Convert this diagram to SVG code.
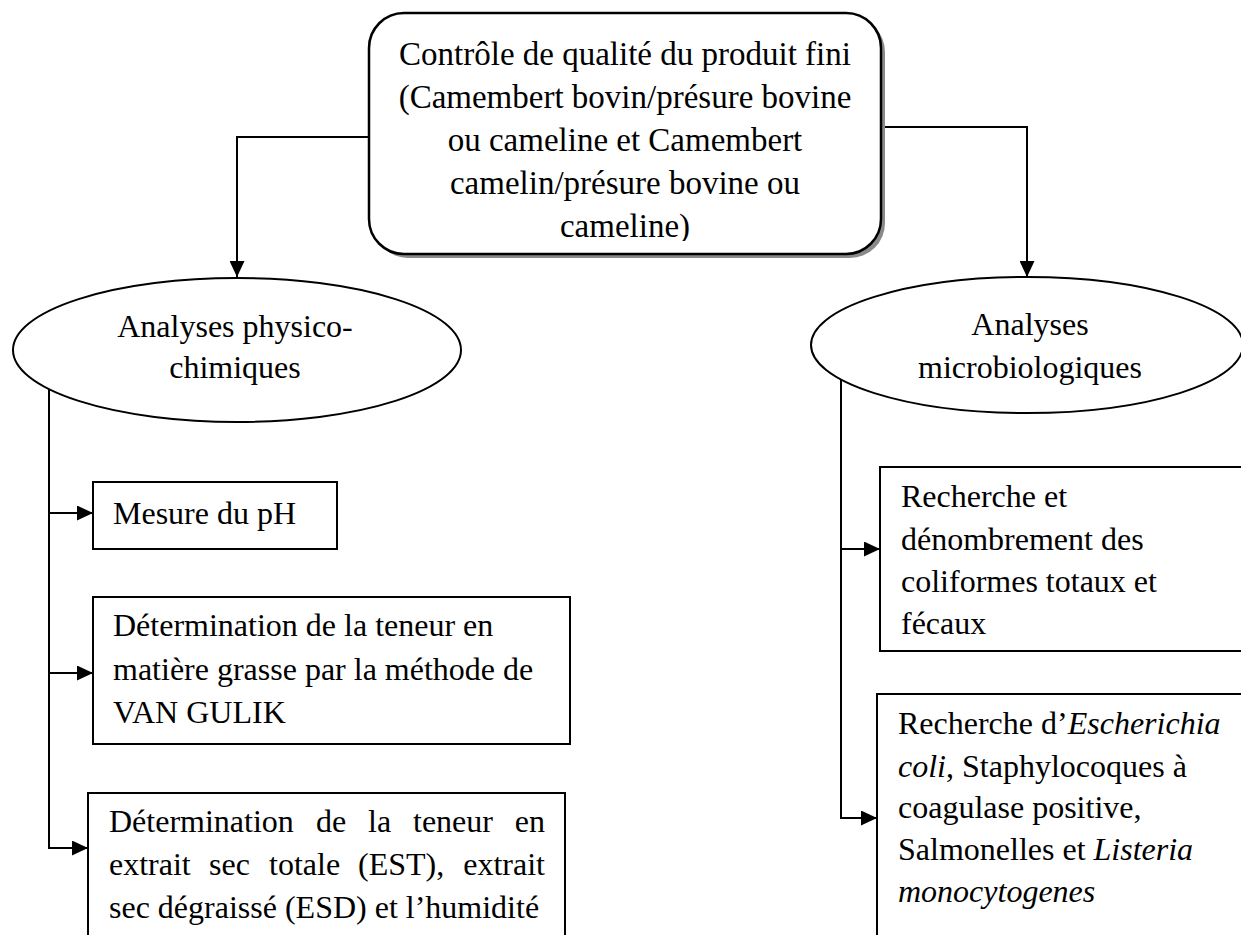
<svg xmlns="http://www.w3.org/2000/svg" width="1241" height="935" viewBox="0 0 1241 935">
<style>
text{font-family:"Liberation Serif","Times New Roman",serif;font-size:32px;fill:#000}
.t{font-size:33px}
.c{text-anchor:middle}
.e{text-anchor:end}
.i{font-style:italic}
.box{fill:#fff;stroke:#000;stroke-width:2}
.ell{fill:#fff;stroke:#000;stroke-width:2}
.ln{fill:none;stroke:#000;stroke-width:2}
</style>
<defs>
<marker id="ah" markerUnits="userSpaceOnUse" markerWidth="16" markerHeight="15" refX="16" refY="7.5" orient="auto">
<path d="M0,0 L16,7.5 L0,15 Z" fill="#000"/>
</marker>
<clipPath id="topclip"><rect x="370" y="14" width="510" height="227"/></clipPath>
</defs>
<rect width="1241" height="935" fill="#fff"/>

<g id="connectors">
<polyline class="ln" points="369,137 237,137 237,277" marker-end="url(#ah)"/>
<polyline class="ln" points="881,127 1027,127 1027,277" marker-end="url(#ah)"/>
<line class="ln" x1="49" y1="389" x2="49" y2="849"/>
<line class="ln" x1="48" y1="513" x2="93" y2="513" marker-end="url(#ah)"/>
<line class="ln" x1="48" y1="673" x2="93" y2="673" marker-end="url(#ah)"/>
<line class="ln" x1="48" y1="848" x2="88" y2="848" marker-end="url(#ah)"/>
<line class="ln" x1="841" y1="379" x2="841" y2="819"/>
<line class="ln" x1="840" y1="549" x2="880" y2="549" marker-end="url(#ah)"/>
<line class="ln" x1="840" y1="818" x2="877" y2="818" marker-end="url(#ah)"/>
</g>

<g id="top">
<rect x="373" y="17" width="512" height="241" rx="35" fill="#8a8a8a"/>
<rect x="369" y="13" width="512" height="241" rx="35" fill="#fff" stroke="#000" stroke-width="2.5"/>
<g clip-path="url(#topclip)">
<text class="t c" x="625" y="65">Contrôle de qualité du produit fini</text>
<text class="t c" x="625" y="108">(Camembert bovin/présure bovine</text>
<text class="t c" x="625" y="151">ou cameline et Camembert</text>
<text class="t c" x="625" y="194">camelin/présure bovine ou</text>
<text class="t c" x="625" y="237">cameline)</text>
</g>
</g>

<g id="physico">
<ellipse class="ell" cx="237" cy="350" rx="224" ry="72"/>
<text class="c" x="235" y="337">Analyses physico-</text>
<text class="c" x="235" y="378">chimiques</text>
</g>

<g id="micro">
<ellipse class="ell" cx="1027" cy="345" rx="216" ry="68"/>
<text class="c" x="1030" y="335">Analyses</text>
<text class="c" x="1030" y="378">microbiologiques</text>
</g>

<g id="ph">
<rect class="box" x="93" y="482" width="244" height="67"/>
<text x="113" y="524">Mesure du pH</text>
</g>

<g id="mg">
<rect class="box" x="93" y="597" width="477" height="147"/>
<text x="113" y="636">Détermination de la teneur en</text>
<text x="113" y="680">matière grasse par la méthode de</text>
<text x="113" y="723">VAN GULIK</text>
</g>

<g id="est">
<rect class="box" x="88" y="793" width="477" height="160"/>
<text x="109" y="832">Détermination</text>
<text x="316" y="832">de</text>
<text x="368" y="832">la</text>
<text x="413" y="832">teneur</text>
<text class="e" x="545" y="832">en</text>
<text x="109" y="875">extrait</text>
<text x="209" y="875">sec</text>
<text x="269" y="875">totale</text>
<text x="358" y="875">(EST),</text>
<text class="e" x="545" y="875">extrait</text>
<text x="109" y="918">sec dégraissé (ESD) et l’humidité</text>
</g>

<g id="coli">
<rect class="box" x="880" y="467" width="370" height="184"/>
<text x="901" y="507">Recherche et</text>
<text x="901" y="550">dénombrement des</text>
<text x="901" y="592">coliformes totaux et</text>
<text x="901" y="634">fécaux</text>
</g>

<g id="patho">
<rect class="box" x="877" y="694" width="373" height="260"/>
<text x="898" y="734">Recherche d’<tspan class="i">Escherichia</tspan></text>
<text x="898" y="777"><tspan class="i">coli</tspan>, Staphylocoques à</text>
<text x="898" y="818">coagulase positive,</text>
<text x="898" y="860">Salmonelles et <tspan class="i">Listeria</tspan></text>
<text x="898" y="902"><tspan class="i">monocytogenes</tspan></text>
</g>
</svg>
